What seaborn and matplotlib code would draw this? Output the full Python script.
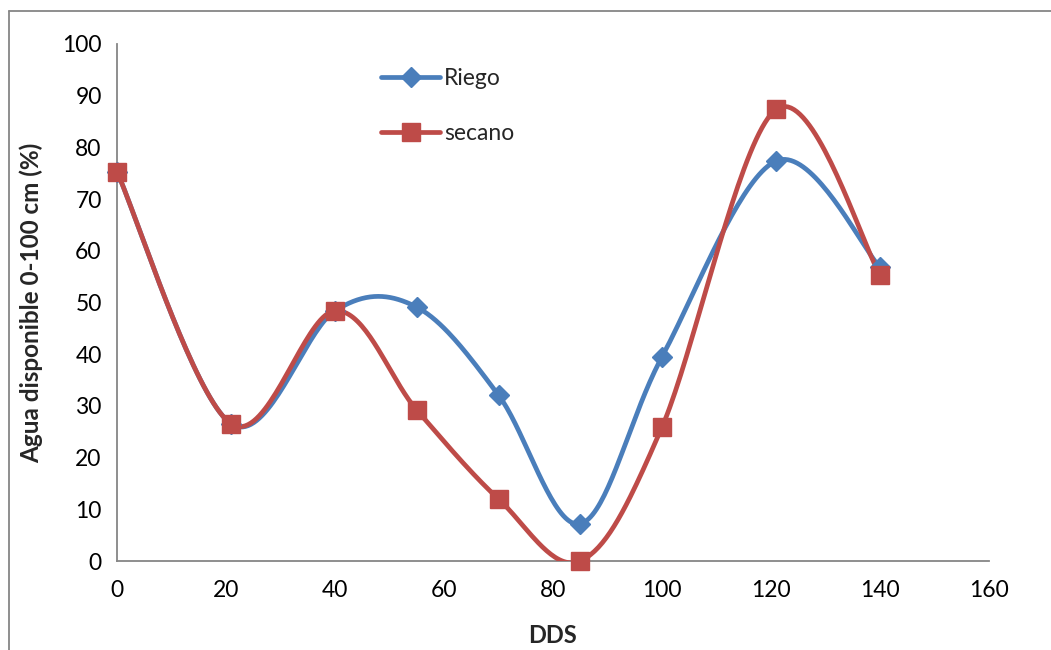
import numpy as np
import pandas as pd
import matplotlib
matplotlib.use("Agg")
import matplotlib.pyplot as plt
from matplotlib.lines import Line2D
import seaborn as sns

dds = [0, 21, 40, 55, 70, 85, 100, 121, 140]
riego = [75.3, 26.5, 48.4, 49.1, 32.1, 7.2, 39.5, 77.4, 56.8]
secano = [75.3, 26.5, 48.4, 29.2, 12.0, 0.0, 25.9, 87.4, 55.4]
series_names = ["Riego", "secano"]
x_ticks = [0, 20, 40, 60, 80, 100, 120, 140, 160]
y_ticks = [0, 10, 20, 30, 40, 50, 60, 70, 80, 90, 100]

BLUE = "#4A7EBB"
RED = "#BE4B48"
GRAY = "#868686"


def smooth(xs, ys, n=40):
    """Excel-style smoothed line: cubic Bezier with Catmull-Rom tangents (1/6)."""
    P = np.column_stack([xs, ys]).astype(float)
    m = len(P)
    out = []
    t = np.linspace(0, 1, n)[:, None]
    for i in range(m - 1):
        p0 = P[i]
        p3 = P[i + 1]
        pm = P[i - 1] if i > 0 else P[i]
        pp = P[i + 2] if i + 2 < m else P[i + 1]
        c1 = p0 + (p3 - pm) / 6.0
        c2 = p3 - (pp - p0) / 6.0
        seg = ((1 - t) ** 3) * p0 + 3 * ((1 - t) ** 2) * t * c1 + 3 * (1 - t) * t ** 2 * c2 + t ** 3 * p3
        out.append(seg if i == 0 else seg[1:])
    seg = np.vstack(out)
    return seg[:, 0], seg[:, 1]


sns.set_style("white")
plt.rcParams["font.family"] = ["Lato", "DejaVu Sans"]

fig = plt.figure(figsize=(10.51, 6.5), dpi=100)
ax = fig.add_axes([117 / 1051, 1 - 561 / 650, (989 - 117) / 1051, (561 - 44) / 650])

for name, vals, color, marker, ms in [
    ("Riego", riego, BLUE, "D", 10),
    ("secano", secano, RED, "s", 13),
]:
    sx, sy = smooth(dds, vals)
    curve = pd.DataFrame({"x": sx, "y": sy})
    sns.lineplot(data=curve, x="x", y="y", sort=False, ax=ax, color=color,
                 linewidth=3.4, legend=False, solid_capstyle="round", zorder=3)
    pts = pd.DataFrame({"x": dds, "y": vals})
    ax.plot(pts["x"], pts["y"], linestyle="none", marker=marker, markersize=ms,
            color=color, markeredgecolor=color, zorder=4, clip_on=False)

ax.set_xlim(0, 160)
ax.set_ylim(0, 100)
ax.set_xticks(x_ticks)
ax.set_yticks(y_ticks)
ax.tick_params(axis="both", labelsize=16.5, colors="black", length=5, width=1.2,
               direction="out", color=GRAY, pad=6)
ax.tick_params(axis="x", pad=9)
for s in ["top", "right"]:
    ax.spines[s].set_visible(False)
for s in ["left", "bottom"]:
    ax.spines[s].set_color(GRAY)
    ax.spines[s].set_linewidth(1.3)

ax.set_xlabel("DDS", fontsize=17, fontweight="bold", labelpad=16)
ax.set_ylabel("Agua disponible 0-100 cm (%)", fontsize=17.5, fontweight="bold", labelpad=14)

handles = [
    Line2D([0], [0], color=BLUE, lw=3.4, marker="D", markersize=10, solid_capstyle="round"),
    Line2D([0], [0], color=RED, lw=3.4, marker="s", markersize=13, solid_capstyle="round"),
]
leg = ax.legend(handles, series_names, loc="upper left", bbox_to_anchor=(0.292, 0.972),
                frameon=False, fontsize=16.5, handlelength=2.6, handletextpad=0.15,
                labelspacing=1.5, borderaxespad=0)

# outer chart border (top and left visible)
fig.add_artist(Line2D([9 / 1051, 9 / 1051], [0, 1 - 11 / 650], transform=fig.transFigure,
                      color=GRAY, lw=1.3))
fig.add_artist(Line2D([9 / 1051, 1], [1 - 11 / 650, 1 - 11 / 650], transform=fig.transFigure,
                      color=GRAY, lw=1.3))

fig.savefig("out.png", dpi=100)
